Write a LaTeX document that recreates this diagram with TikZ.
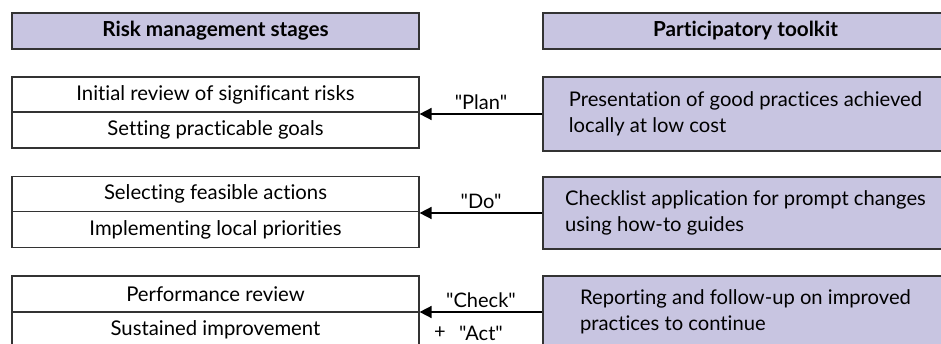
\documentclass[tikz,border=0pt]{standalone}
\usepackage{fontspec}
\setmainfont{Lato}[Ligatures={TeXOff,NoCommon}]
\usetikzlibrary{arrows.meta}
\definecolor{lav}{HTML}{C8C5E1}
\definecolor{edgec}{HTML}{333333}
\begin{document}
\begin{tikzpicture}[x=1pt,y=-1pt,
  cell/.style={draw=edgec,line width=1.2pt,inner sep=0pt,minimum width=407pt,font=\fontsize{20.3}{23}\selectfont},
  hdrl/.style={cell,fill=lav,minimum height=36pt,font=\fontsize{20.7}{23}\selectfont\bfseries},
  hdrr/.style={hdrl,minimum width=405pt},
  tool/.style={draw=edgec,line width=1.2pt,fill=lav,inner sep=0pt,minimum width=405pt,align=left,font=\fontsize{20.2}{26}\selectfont},
  flow/.style={line width=1.6pt,-{Triangle[length=12pt,width=12pt]}},
  lab/.style={font=\fontsize{20}{22}\selectfont,inner sep=2pt}]
\useasboundingbox (0,0) rectangle (941,344);
% headers
\node[hdrl] (h1) at (215.5,31) {Risk management stages};
\node[hdrr] (h2) at (745.5,31) {Participatory toolkit};
% group 1
\node[cell,minimum height=35pt] (l1a) at (215.5,94.5) {Initial review of significant risks};
\node[cell,minimum height=36pt] (l1b) at (215.5,130) {Setting practicable goals};
\node[tool,minimum height=74pt] (r1) at (745.5,114) {Presentation of good practices achieved\\locally at low cost};
% group 2
\node[cell,minimum height=35pt] (l2a) at (215.5,194.2) {Selecting feasible actions};
\node[cell,minimum height=36pt] (l2b) at (215.5,229.7) {Implementing local priorities};
\node[tool,minimum height=72pt] (r2) at (745.5,213) {Checklist application for prompt changes\\using how-to guides};
% group 3
\node[cell,minimum height=36pt] (l3a) at (215.5,294) {Performance review};
\node[cell,minimum height=36pt] (l3b) at (215.5,330) {Sustained improvement};
\node[tool,minimum height=72pt] (r3) at (745.5,312) {Reporting and follow-up on improved\\practices to continue};
% connectors
\draw[flow] (r1.west) -- node[lab,above=2pt] (p1) {"Plan"} (r1.west -| l1a.east);
\draw[flow] (r2.west) -- node[lab,above=2pt] (p2) {"Do"} (r2.west -| l2a.east);
\draw[flow] (r3.west) -- node[lab,above=2pt] (p3) {"Check"} (r3.west -| l3a.east);
\node[lab] (act) at (481,333) {"Act"};
\node[lab] (plus) at (440,333) {+};
\end{tikzpicture}
\end{document}
